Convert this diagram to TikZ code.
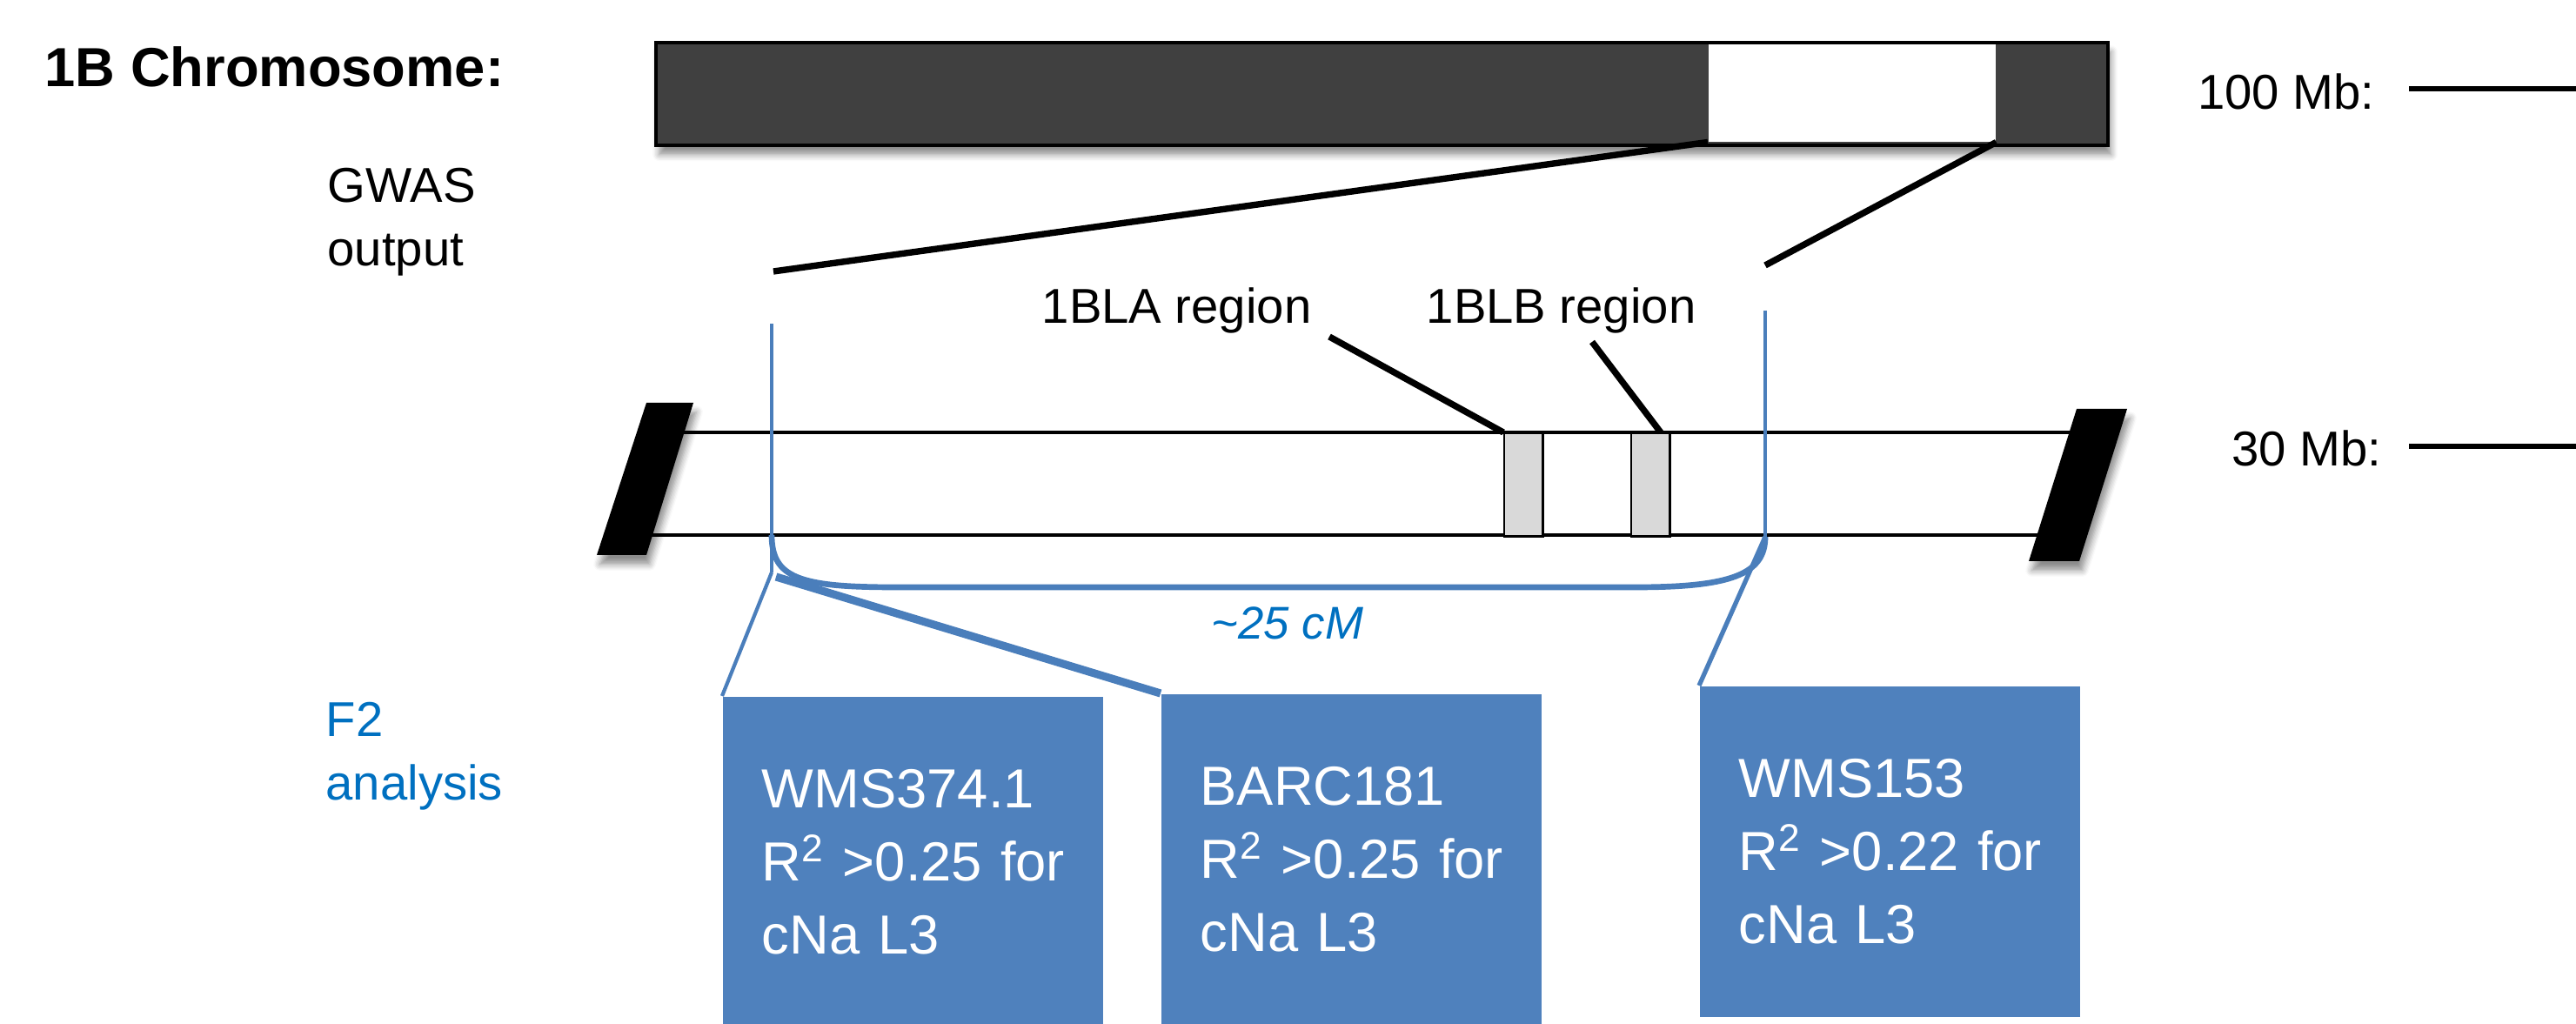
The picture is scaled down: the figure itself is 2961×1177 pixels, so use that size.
\documentclass[tikz,border=0pt]{standalone}
\usepackage{fontspec}
\setmainfont{Liberation Sans}
\usetikzlibrary{calc,shadows.blur}
\definecolor{bargray}{HTML}{404040}
\definecolor{regiongray}{HTML}{D9D9D9}
\definecolor{boxblue}{HTML}{4F81BD}
\definecolor{lineblue}{HTML}{4A7EBB}
\definecolor{textblue}{HTML}{0070C0}
\tikzset{
	softshadow/.style={blur shadow={shadow xshift=1pt, shadow yshift=-3pt, shadow blur steps=6, shadow opacity=45}},
	lbl/.style={inner sep=0pt, font=\fontsize{16}{20.7}\selectfont},
	marker/.style={fill=boxblue, text=white, anchor=north west, align=left, inner xsep=0.45cm, inner ysep=0pt, text width=3.47cm, minimum height=3.8cm, font=\fontsize{18}{23.8}\selectfont},
	region/.style={draw, line width=0.7pt, fill=regiongray, anchor=north west, inner sep=0pt, minimum width=0.44cm, minimum height=1.18cm},
	zoomline/.style={line width=2.1pt},
	blueline/.style={lineblue, line width=1.1pt}
}
\begin{document}
\begin{tikzpicture}[x=0.01cm, y=-0.01cm]
		\useasboundingbox (0,0) rectangle (2961,1177);
		\node[lbl, anchor=base west, font=\bfseries\fontsize{18}{22}\selectfont] (title) at (51,100) {1B Chromosome:};
		\node[lbl, anchor=north west, align=left] (gwas) at (376,193) {GWAS\\output};
		\node[lbl, anchor=north west, align=left, text=textblue] (ftwo) at (374,807) {F2\\analysis};
		\node[lbl, anchor=base east] (mb100) at (2730,126) {100 Mb:};
		\node[lbl, anchor=base east] (mb30) at (2738,536) {30 Mb:};
		\coordinate (s100) at (2769,102);
		\coordinate (e100) at (2961,102);
		\coordinate (s30) at (2769,513);
		\coordinate (e30) at (2961,513);
		\draw[line width=1.8pt] (s100) -- (e100);
		\draw[line width=1.8pt] (s30) -- (e30);

		\node[draw, line width=1.2pt, fill=bargray, anchor=north west, inner sep=0pt, minimum width=16.68cm, minimum height=1.18cm, softshadow] (chrom) at (752,47) {};
		\node[fill=white, anchor=north west, inner sep=0pt, minimum width=3.3cm, minimum height=1.12cm] (window) at (1963,50) {};
		\coordinate (zl) at (889,312);
		\coordinate (zr) at (2029,305);
		\draw[zoomline] (window.south west) -- (zl);
		\draw[zoomline] (window.south east) -- (zr);

		\draw[line width=1.4pt] (770,497) -- (2400,497);
		\draw[line width=1.4pt] (730,615) -- (2360,615);
		\fill[softshadow] (743,463) -- (797,463) -- (743,638) -- (686,638) -- cycle;
		\fill[softshadow] (2387,470) -- (2445,470) -- (2390,645) -- (2332,645) -- cycle;
		\node[region] (bla) at (1728,497) {};
		\node[region] (blb) at (1874,497) {};
		\node[lbl, anchor=base west] (rega) at (1197,372) {1BLA region};
		\node[lbl, anchor=base west] (regb) at (1639,372) {1BLB region};
		\coordinate (la) at (1528,387);
		\coordinate (lb) at (1830,393);
		\draw[zoomline] (la) -- (bla.north west);
		\draw[zoomline] (lb) -- ($(blb.north)!0.5!(blb.north east)$);

		\coordinate (gl) at (887,372);
		\coordinate (gr) at (2029,357);
		\coordinate (bl) at (887,658);
		\coordinate (bl2) at (892,663);
		\coordinate (br) at (2029,617);
		\draw[blueline] (gl) -- (bl);
		\draw[blueline] (gr) -- (br);
		\draw[lineblue, line width=1.9pt] (887,615) .. controls (887,665) and (920,675) .. (1030,675) -- (1880,675) .. controls (1990,675) and (2029,660) .. (br);
		\node[lbl, anchor=base west, text=textblue, font=\itshape\fontsize{15}{18}\selectfont] (cm) at (1392,735) {\textasciitilde25 cM};

		\node[marker] (m1) at (830,800) {WMS374.1\\R\textsuperscript{2}~>0.25~for\\cNa L3};
		\node[marker] (m2) at (1334,797) {BARC181\\R\textsuperscript{2}~>0.25~for\\cNa L3};
		\node[marker] (m3) at (1953,788) {WMS153\\R\textsuperscript{2}~>0.22~for\\cNa L3};
		\draw[lineblue, line width=1.2pt] (bl) -- (m1.north west);
		\draw[lineblue, line width=2.6pt] (bl2) -- (m2.north west);
		\draw[lineblue, line width=1.5pt] (br) -- (m3.north west);
	\end{tikzpicture}
\end{document}
